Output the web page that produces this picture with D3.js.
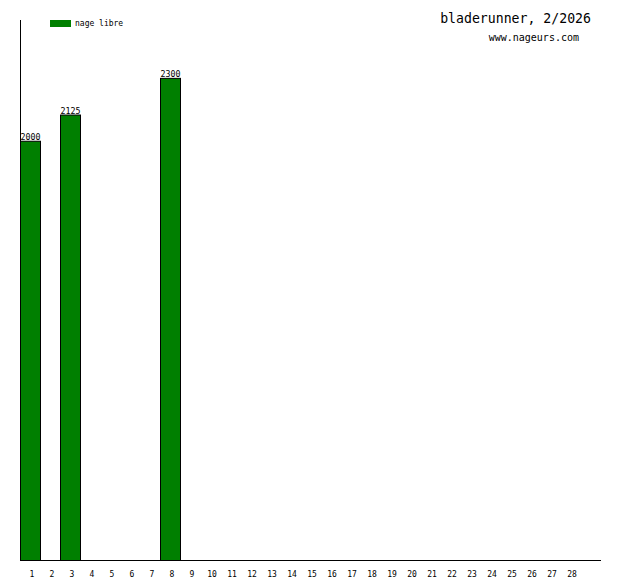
<!DOCTYPE html>
<html><head><meta charset="utf-8">
<script src="https://cdn.jsdelivr.net/npm/d3@7"></script>
<style>body{margin:0;background:#fff}svg{display:block}</style>
</head><body>
<script>
const days = d3.range(1, 29).map(String);
const values = {"1": 2000, "3": 2125, "8": 2300};
const seriesName = "nage libre";
const title = "bladerunner, 2/2026";
const subtitle = "www.nageurs.com";

const W = 620, H = 580;
const svg = d3.select("body").append("svg").attr("width", W).attr("height", H);
const x = d3.scaleBand().domain(days).range([20, 580]).padding(0);
const y = d3.scaleLinear().domain([0, 2576]).range([560, 20]);
const font = "'DejaVu Sans Mono', 'Liberation Mono', monospace";

const data = days.filter(d => values[d] != null).map(d => ({day: d, v: values[d]}));

svg.selectAll("rect.bar").data(data).enter().append("rect")
  .attr("x", d => x(d.day) + 0.5).attr("width", x.bandwidth())
  .attr("y", d => y(d.v) + 0.5).attr("height", d => y(0) - y(d.v))
  .attr("fill", "#007f00").attr("stroke", "#000").attr("stroke-width", 1);

svg.selectAll("text.val").data(data).enter().append("text")
  .attr("x", d => x(d.day) + x.bandwidth() / 2 + 0.5).attr("y", d => y(d.v) - 0.5)
  .attr("text-anchor", "middle").attr("font-family", font).attr("font-size", 8.3)
  .text(d => d.v);

// axes
svg.append("line").attr("x1", 20.5).attr("x2", 20.5).attr("y1", 20).attr("y2", 560.5).attr("stroke", "#000");
svg.append("line").attr("x1", 20).attr("x2", 601).attr("y1", 560.5).attr("y2", 560.5).attr("stroke", "#000");

svg.selectAll("text.xl").data(days).enter().append("text")
  .attr("x", d => x(d) + x.bandwidth() / 2 + 2).attr("y", 577)
  .attr("text-anchor", "middle").attr("font-family", font).attr("font-size", 8)
  .text(d => d);

// legend
svg.append("rect").attr("x", 50).attr("y", 20).attr("width", 21).attr("height", 7).attr("fill", "#007f00");
svg.append("text").attr("x", 75).attr("y", 26).attr("font-family", font).attr("font-size", 8).text(seriesName);

svg.append("text").attr("x", 591).attr("y", 23).attr("text-anchor", "end")
  .attr("font-family", font).attr("font-size", 13.2).text(title);
svg.append("text").attr("x", 579).attr("y", 41).attr("text-anchor", "end")
  .attr("font-family", font).attr("font-size", 10).text(subtitle);
</script>
</body></html>
